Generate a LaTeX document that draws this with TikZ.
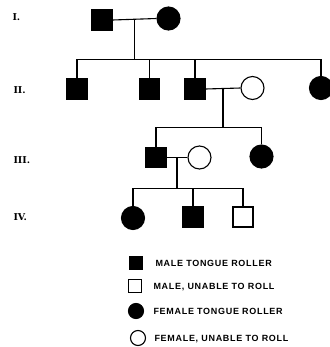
\documentclass[tikz,border=0pt]{standalone}
\usepackage{fontspec}
\setsansfont{Liberation Sans}[LetterSpace=8]
\newfontfamily\genfont{DejaVu Serif}
\usetikzlibrary{calc}
\begin{document}
\begin{tikzpicture}[x=1bp,y=-1bp,
  line width=1.1bp,
  male/.style={draw, rectangle, minimum size=20bp, inner sep=0pt},
  female/.style={draw, circle, minimum size=23bp, inner sep=0pt},
  affected/.style={fill=black},
  keymale/.style={draw, rectangle, minimum size=13bp, inner sep=0pt},
  keyfemale/.style={draw, circle, minimum size=15bp, inner sep=0pt},
  gen/.style={anchor=west, inner sep=0pt, font=\genfont\bfseries\fontsize{9.5}{11}\selectfont},
  keytext/.style={anchor=west, inner sep=0pt, font=\sffamily\bfseries\fontsize{9}{11}\selectfont},
  ]
\useasboundingbox (0,0) rectangle (330,347);

% generation labels
\node[gen] (gI)   at (12,17)  {I.};
\node[gen] (gII)  at (13,90)  {II.};
\node[gen] (gIII) at (13,160) {III.};
\node[gen] (gIV)  at (13,217) {IV.};

% generation I
\node[male,affected]   (a1) at (102,20) {};
\node[female,affected] (a2) at (168.5,18.5) {};
\draw (a1.east) -- (a2.west);
\coordinate (m1) at ($(a1.east)!0.5!(a2.west)$);
\coordinate (s1) at (m1 |- 0,59.5);

% generation II
\node[male,affected]   (b1) at (77,89) {};
\node[male,affected]   (b2) at (149.5,89) {};
\node[male,affected]   (b3) at (195,89) {};
\node[female]          (b4) at (252.5,88) {};
\node[female,affected] (b5) at (321,88) {};
\draw (m1) -- (s1);
\draw (b1.north) |- (s1) -| (b5.north);
\draw (b2.north) -- (b2.north |- s1);
\draw (b3.north) -- (b3.north |- s1);
\draw (b3.east) -- (b4.west);
\coordinate (m2) at ($(b3.east)!0.5!(b4.west)$);
\coordinate (s2) at (m2 |- 0,127.5);

% generation III
\node[male,affected]   (c1) at (156,157.5) {};
\node[female]          (c2) at (199.5,157.5) {};
\node[female,affected] (c3) at (261.5,156.5) {};
\draw (m2) -- (s2);
\draw (c1.north) |- (s2) -| (c3.north);
\draw (c1.east) -- (c2.west);
\coordinate (m3) at ($(c1.east)!0.5!(c2.west)$);
\coordinate (s3) at (m3 |- 0,188.5);

% generation IV
\node[female,affected] (d1) at (133,218) {};
\node[male,affected]   (d2) at (193,217) {};
\node[male]            (d3) at (243,217) {};
\draw (m3) -- (s3);
\draw (d1.north) |- (s3) -| (d3.north);
\draw (d2.north) -- (d2.north |- s3);

% key
\node[keymale,affected]   (k1) at (136,263) {};
\node[keymale]            (k2) at (135,286) {};
\node[keyfemale,affected] (k3) at (136,311) {};
\node[keyfemale]          (k4) at (138,338) {};
\node[keytext] (t1) at (155,263) {MALE TONGUE ROLLER};
\node[keytext] (t2) at (153,287) {MALE, UNABLE TO ROLL};
\node[keytext] (t3) at (153,311) {FEMALE TONGUE ROLLER};
\node[keytext] (t4) at (154,339) {FEMALE, UNABLE TO ROLL};
\end{tikzpicture}
\end{document}
